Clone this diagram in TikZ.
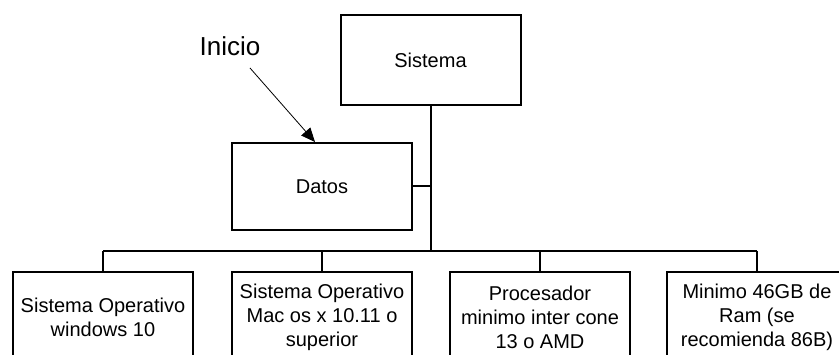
\documentclass[tikz,border=0pt]{standalone}
\usepackage{fontspec}
\setmainfont{Liberation Sans}
\usetikzlibrary{arrows.meta}
\begin{document}
\begin{tikzpicture}[x=1pt,y=-1pt,
  box/.style={draw, line width=2pt, minimum width=180pt, minimum height=90pt, align=center, inner sep=0pt, font=\fontsize{20}{24}\selectfont},
  conn/.style={line width=2pt},
  lbl/.style={font=\fontsize{26}{30}\selectfont, inner sep=0pt}]
\useasboundingbox (0,0) rectangle (839,355);
\node[box] (sis) at (430.5,60.5) {Sistema};
\node[box, minimum height=87pt] (datos) at (322,186.5) {Datos};
\node[box] (b1) at (103,317) {Sistema Operativo\\windows 10};
\node[box] (b2) at (322,317) {Sistema Operativo\\Mac os x 10.11 o\\superior};
\node[box] (b3) at (540,317) {Procesador\\minimo inter cone\\13 o AMD};
\node[box] (b4) at (757,317) {Minimo 46GB de\\Ram (se\\recomienda 86B)};
\node[lbl] (ini) at (230,46) {Inicio};
\coordinate (bus) at (430.5,251);
\coordinate (busL) at (103,251);
\coordinate (busR) at (757,251);
\coordinate (dj) at (430.5,186.5);
\coordinate (a0) at (250,68);
\draw[conn] (sis.south) -- (bus);
\draw[conn] (datos.east) -- (dj);
\draw[conn] (busL) -- (busR);
\draw[conn] (busL) -- (b1.north);
\draw[conn] (b2.north |- bus) -- (b2.north);
\draw[conn] (b3.north |- bus) -- (b3.north);
\draw[conn] (busR) -- (b4.north);
\draw[line width=0.8pt, -{Triangle[length=14pt,width=12pt]}] (a0) -- ([xshift=-7pt]datos.north);
\end{tikzpicture}
\end{document}
